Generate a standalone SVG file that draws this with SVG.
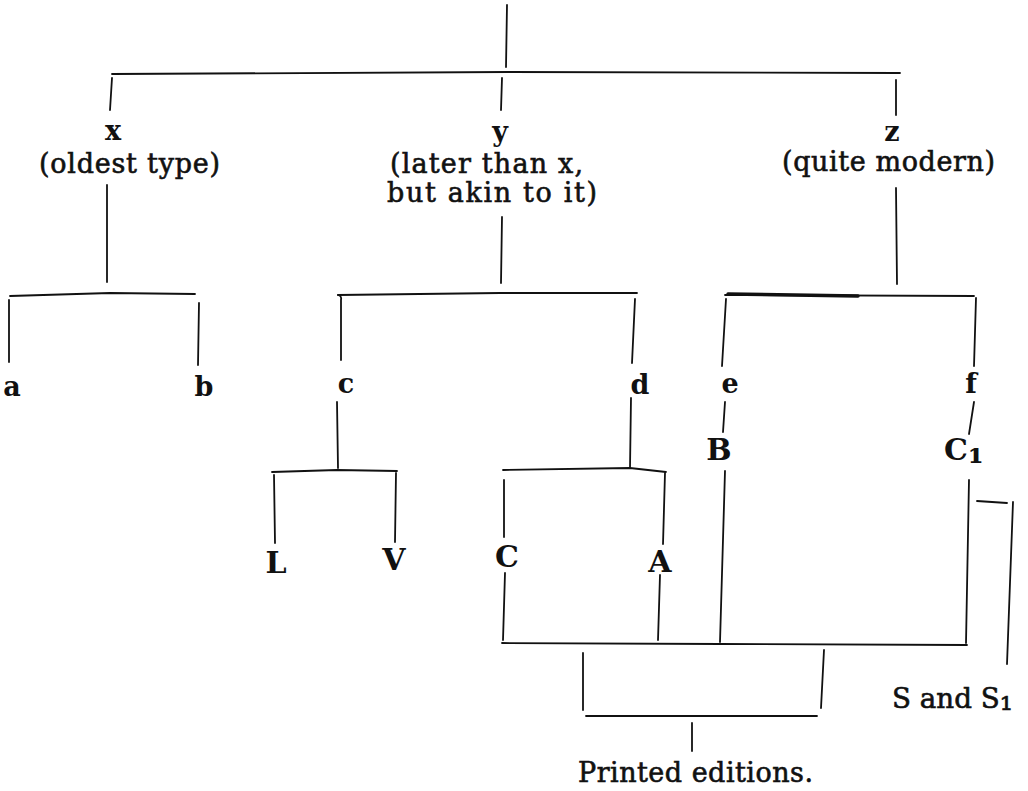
<svg xmlns="http://www.w3.org/2000/svg" width="1028" height="791" viewBox="0 0 1028 791">
<style>
.ln{stroke:#111;stroke-width:1.8;fill:none;stroke-linecap:round}
.thick{stroke:#111;stroke-width:3.4;fill:none;stroke-linecap:round}
.ph{font-family:"DejaVu Serif","Liberation Serif",serif;font-size:27px;fill:#111;stroke:#111;stroke-width:0.6}
.lt{font-family:"DejaVu Serif","Liberation Serif",serif;font-size:27px;font-weight:bold;fill:#111;text-anchor:middle}
.cap{font-family:"DejaVu Serif","Liberation Serif",serif;font-size:30px;font-weight:bold;fill:#111;text-anchor:middle}
</style>
<rect width="1028" height="791" fill="#fff"/>
<g id="connectors">
<path class="ln" d="M507 5 L506 67"/>
<path class="ln" d="M112 74 L508 72 L900 73"/>
<path class="ln" d="M112 78 L110 110"/>
<path class="ln" d="M502 78 L501 110"/>
<path class="ln" d="M896 80 L896 115"/>
<path class="ln" d="M107 185 L107 282"/>
<path class="ln" d="M10 296 L110 293 L195 294"/>
<path class="ln" d="M9 300 L9 362"/>
<path class="ln" d="M199 303 L198 365"/>
<path class="ln" d="M502 217 L501 283"/>
<path class="ln" d="M338 295 L500 293 L637 293"/>
<path class="ln" d="M338 295 Q342 296 341 300 L341 360"/>
<path class="ln" d="M635 299 L632 363"/>
<path class="ln" d="M896 188 L897 284"/>
<path class="ln" d="M725 295 L974 296"/>
<path class="thick" d="M728 294 L858 296"/>
<path class="ln" d="M726 299 L722 366"/>
<path class="ln" d="M976 298 L974 366"/>
<path class="ln" d="M337 402 L338 468"/>
<path class="ln" d="M272 472 L337 470 L397 471"/>
<path class="ln" d="M274 475 L275 543"/>
<path class="ln" d="M396 473 L395 542"/>
<path class="ln" d="M631 398 L630 468"/>
<path class="ln" d="M503 470 L630 468 L666 472"/>
<path class="ln" d="M504 480 L504 537"/>
<path class="ln" d="M665 473 L663 544"/>
<path class="ln" d="M725 402 L723 432"/>
<path class="ln" d="M974 402 L969 434"/>
<path class="ln" d="M725 471 L720 642"/>
<path class="ln" d="M969 480 L966 643"/>
<path class="ln" d="M505 573 L503 640"/>
<path class="ln" d="M660 575 L658 640"/>
<path class="ln" d="M502 643 L720 644 L967 645"/>
<path class="ln" d="M583 653 L583 710"/>
<path class="ln" d="M824 650 L821 708"/>
<path class="ln" d="M586 716 L817 716"/>
<path class="ln" d="M692 723 L692 751"/>
<path class="ln" d="M977 501 L1007 503"/>
<path class="ln" d="M1013 502 L1007 664"/>
</g>
<g id="node-x">
<text class="lt" x="113" y="140">x</text>
<text class="ph" x="39" y="173" textLength="181" lengthAdjust="spacing">(oldest type)</text>
</g>
<g id="node-y">
<text class="lt" x="500" y="141">y</text>
<text class="ph" x="390" y="173" textLength="193" lengthAdjust="spacing">(later than x,</text>
<text class="ph" x="387" y="202" textLength="210" lengthAdjust="spacing">but akin to it)</text>
</g>
<g id="node-z">
<text class="lt" x="892" y="141">z</text>
<text class="ph" x="782" y="171" textLength="213" lengthAdjust="spacing">(quite modern)</text>
</g>
<g id="node-a"><text class="lt" x="12" y="396">a</text></g>
<g id="node-b"><text class="lt" x="204" y="396">b</text></g>
<g id="node-c"><text class="lt" x="346" y="393">c</text></g>
<g id="node-d"><text class="lt" x="640" y="394">d</text></g>
<g id="node-e"><text class="lt" x="730" y="393">e</text></g>
<g id="node-f"><text class="lt" x="971" y="393">f</text></g>
<g id="node-L"><text class="cap" x="276" y="573">L</text></g>
<g id="node-V"><text class="cap" x="394" y="570">V</text></g>
<g id="node-C"><text class="cap" x="507" y="567">C</text></g>
<g id="node-A"><text class="cap" x="660" y="572">A</text></g>
<g id="node-B"><text class="cap" x="719" y="460">B</text></g>
<g id="node-C1"><text class="cap" x="944" y="460" style="text-anchor:start">C<tspan style="font-size:36px" dy="3">₁</tspan></text></g>
<g id="node-S"><text class="ph" x="892" y="708" textLength="121" lengthAdjust="spacingAndGlyphs">S and S<tspan style="font-size:32px" dy="2">₁</tspan></text></g>
<g id="node-printed"><text class="ph" x="578" y="782" textLength="235" lengthAdjust="spacing">Printed editions.</text></g>
</svg>
